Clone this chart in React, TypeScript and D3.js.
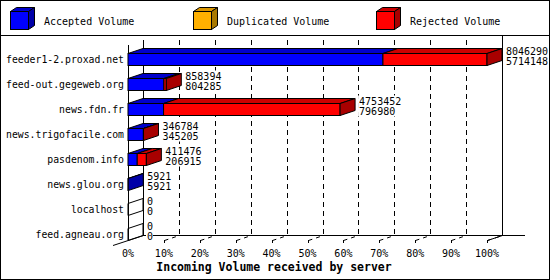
import React from "react";
import * as d3 from "d3";

const categories = [
  "feeder1-2.proxad.net",
  "feed-out.gegeweb.org",
  "news.fdn.fr",
  "news.trigofacile.com",
  "pasdenom.info",
  "news.glou.org",
  "localhost",
  "feed.agneau.org",
];
const totalVolume = [8046290, 858394, 4753452, 346784, 411476, 5921, 0, 0];
const acceptedVolume = [5714148, 804285, 796980, 345205, 206915, 5921, 0, 0];
const duplicatedVolume = [0, 0, 0, 0, 0, 0, 0, 0];
const rejectedVolume = [2332142, 54109, 3956472, 1579, 204561, 0, 0, 0];
const percentTicks = [0, 10, 20, 30, 40, 50, 60, 70, 80, 90, 100];
const legendLabels = ["Accepted Volume", "Duplicated Volume", "Rejected Volume"];

const W = 550;
const H = 280;
const DX = 15;
const DY = 5;
const FONT = "'DejaVu Sans Mono', monospace";

const seriesColors = [
  { front: "#0000ff", top: "#0000cc", side: "#0000a8" },
  { front: "#ffb000", top: "#d99600", side: "#a87800" },
  { front: "#ff0000", top: "#cc0000", side: "#a80000" },
];

export default function App() {
  const maxTotal = d3.max(totalVolume) as number;
  const x = d3.scaleLinear().domain([0, maxTotal]).range([128, 487]);
  const pct = d3.scaleLinear().domain([0, 100]).range([128, 487]);
  const y = d3.scaleBand<string>().domain(categories).range([40, 240]);
  const bw = y.bandwidth();
  const barOff = bw * 0.52;
  const barH = bw * 0.48;

  const floorFront = 240;
  const floorBack = floorFront - DY;
  const poly = (pts: number[][]) => pts.map((p) => p.join(",")).join(" ");

  return (
    <svg
      width={W}
      height={H}
      style={{ position: "absolute", left: 0, top: 0, background: "#fff" }}
      fontFamily={FONT}
    >
      <rect x={0.5} y={0.5} width={W - 1} height={H - 1} fill="#fff" stroke="#000" />
      <line x1={0} x2={W} y1={35.5} y2={35.5} stroke="#000" />

      {/* legend */}
      {legendLabels.map((lab, i) => {
        const lx = 10.5 + i * 183;
        const ly = 11.5;
        const s = 18;
        const c = seriesColors[i];
        return (
          <g key={lab}>
            <polygon
              points={poly([[lx, ly], [lx + s, ly], [lx + s + 6, ly - 4], [lx + 6, ly - 4]])}
              fill={c.top}
              stroke="#000"
            />
            <polygon
              points={poly([[lx + s, ly], [lx + s + 6, ly - 4], [lx + s + 6, ly + s - 4], [lx + s, ly + s]])}
              fill={c.side}
              stroke="#000"
            />
            <rect x={lx} y={ly} width={s} height={s} fill={c.front} stroke="#000" />
            <text x={44 + i * 183} y={21} fontSize={10} dominantBaseline="central" fill="#000">
              {lab}
            </text>
          </g>
        );
      })}

      {/* back wall grid */}
      {percentTicks
        .filter((p) => p > 0 && p < 100)
        .map((p) => (
          <line
            key={"g" + p}
            x1={Math.round(pct(p) + DX) + 0.5}
            x2={Math.round(pct(p) + DX) + 0.5}
            y1={40}
            y2={floorBack}
            stroke="#000"
            strokeDasharray="5,4"
          />
        ))}
      {/* axes */}
      <line x1={143.5} x2={143.5} y1={40} y2={floorBack + 0.5} stroke="#000" />
      <line x1={128.5} x2={128.5} y1={45} y2={floorFront} stroke="#000" />
      <line x1={502.5} x2={502.5} y1={35} y2={floorBack + 0.5} stroke="#000" />
      <line x1={143} x2={525} y1={floorBack + 0.5} y2={floorBack + 0.5} stroke="#000" />
      <line x1={113} y1={floorBack + 10.5} x2={143.5} y2={floorBack + 0.5} stroke="#000" />
      <line x1={487.5} y1={floorFront + 0.5} x2={502.5} y2={floorBack + 0.5} stroke="#000" />

      {/* floor ticks */}
      {percentTicks
        .filter((p) => p > 0)
        .map((p) => {
          const xf = Math.round(pct(p)) + 0.5;
          return (
            <g key={"t" + p}>
              <line x1={xf} x2={xf} y1={floorFront} y2={floorFront + 3} stroke="#000" />
              <line
                x1={xf}
                y1={floorFront + 0.5}
                x2={xf + DX}
                y2={floorBack + 0.5}
                stroke="#000"
                strokeDasharray="4,4"
              />
              <text
                x={pct(p)}
                y={253}
                fontSize={10}
                textAnchor="middle"
                dominantBaseline="central"
              >
                {p + "%"}
              </text>
            </g>
          );
        })}
      <text x={pct(0)} y={253} fontSize={10} textAnchor="middle" dominantBaseline="central">
        0%
      </text>

      {/* bars */}
      {categories.map((cat, i) => {
        const top = Math.round((y(cat) as number) + barOff) + 0.5;
        const bot = top + Math.round(barH);
        const vals = [acceptedVolume[i], duplicatedVolume[i], rejectedVolume[i]];
        let cum = 0;
        let lastIdx = -1;
        const segs = vals.map((v, k) => {
          const x0 = x(cum);
          cum += v;
          const x1 = x(cum);
          if (v > 0) lastIdx = k;
          return { x0, x1, v, k };
        });
        const xe = x(cum);
        const sideFill = lastIdx >= 0 ? seriesColors[lastIdx].side : "none";
        const cy = (top + bot) / 2;
        const t1 = String(totalVolume[i]);
        const t2 = String(acceptedVolume[i]);
        const lblW = Math.max(t1.length, t2.length) * 6 + 1;
        return (
          <g key={cat}>
            {segs
              .filter((s) => s.v > 0)
              .map((s) => (
                <g key={s.k}>
                  <polygon
                    points={poly([[s.x0, top], [s.x1, top], [s.x1 + DX, top - DY], [s.x0 + DX, top - DY]])}
                    fill={seriesColors[s.k].top}
                    stroke="#000"
                  />
                  <rect
                    x={s.x0}
                    y={top}
                    width={s.x1 - s.x0}
                    height={bot - top}
                    fill={seriesColors[s.k].front}
                    stroke="#000"
                  />
                </g>
              ))}
            <polygon
              points={poly([[xe, top], [xe + DX, top - DY], [xe + DX, bot - DY], [xe, bot]])}
              fill={sideFill}
              stroke="#000"
            />
            <text
              x={124}
              y={cy}
              fontSize={9.8}
              textAnchor="end"
              dominantBaseline="central"
            >
              {cat}
            </text>
            <rect
              x={xe + DX + 3}
              y={cy - 14}
              width={lblW}
              height={21}
              fill="#fff"
            />
            <text x={xe + DX + 4} y={cy - 8.5} fontSize={10} dominantBaseline="central">
              {t1}
            </text>
            <text x={xe + DX + 4} y={cy + 2} fontSize={10} dominantBaseline="central">
              {t2}
            </text>
          </g>
        );
      })}

      <text
        x={274}
        y={267}
        fontSize={11.5}
        fontWeight="bold"
        textAnchor="middle"
        dominantBaseline="central"
      >
        Incoming Volume received by server
      </text>
    </svg>
  );
}
